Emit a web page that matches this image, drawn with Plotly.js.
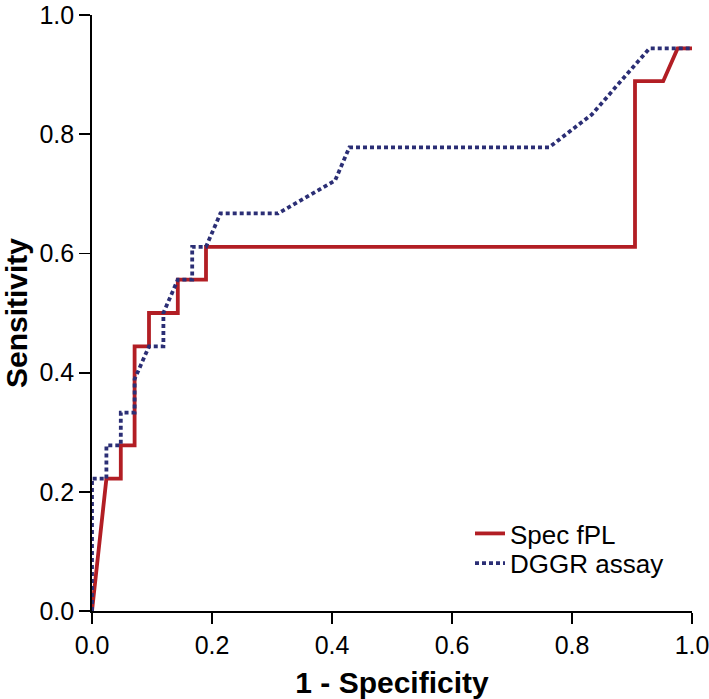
<!DOCTYPE html>
<html>
<head>
<meta charset="utf-8">
<script src="https://cdn.plot.ly/plotly-3.0.1.min.js"></script>
<style>html,body{margin:0;padding:0;background:#fff;}#chart{width:709px;height:699px;}</style>
</head>
<body>
<div id="chart"></div>
<script>
// 1 - Specificity (x) and Sensitivity (y) for each ROC curve
var specFplX = [0, 0.024, 0.048, 0.048, 0.071, 0.071, 0.095, 0.095, 0.143, 0.143, 0.190, 0.190, 0.905, 0.905, 0.952, 0.976, 1.0];
var specFplY = [0, 0.222, 0.222, 0.278, 0.278, 0.444, 0.444, 0.500, 0.500, 0.556, 0.556, 0.611, 0.611, 0.889, 0.889, 0.944, 0.944];

var dggrX = [0, 0, 0.024, 0.024, 0.048, 0.048, 0.071, 0.071, 0.095, 0.119, 0.119, 0.143, 0.167, 0.167, 0.190, 0.214, 0.310, 0.405, 0.429, 0.762, 0.833, 0.929, 1.0];
var dggrY = [0, 0.222, 0.222, 0.278, 0.278, 0.333, 0.333, 0.389, 0.444, 0.444, 0.500, 0.556, 0.556, 0.611, 0.611, 0.667, 0.667, 0.722, 0.778, 0.778, 0.833, 0.944, 0.944];

var seriesNames = ["Spec fPL", "DGGR assay"];
var tickVals = [0, 0.2, 0.4, 0.6, 0.8, 1.0];
var tickText = ["0.0", "0.2", "0.4", "0.6", "0.8", "1.0"];
var xTitle = "1 - Specificity";
var yTitle = "Sensitivity";

var FONT = "Liberation Sans, Arial, Helvetica, sans-serif";

var traces = [
  {x: specFplX, y: specFplY, name: seriesNames[0], mode: "lines", type: "scatter",
   line: {color: "#B21E24", width: 3.8}, legend: "legend"},
  {x: dggrX, y: dggrY, name: seriesNames[1], mode: "lines", type: "scatter",
   line: {color: "#2B2E75", width: 3.8, dash: "4px,3px"}, legend: "legend2"}
];

var axisCommon = {
  range: [0, 1], tickvals: tickVals, ticktext: tickText,
  showgrid: false, zeroline: false, showline: true, linecolor: "#000", linewidth: 1.8,
  ticks: "outside", ticklen: 11, tickwidth: 1.8, tickcolor: "#000",
  ticklabeloverflow: "allow",
  tickfont: {family: FONT, size: 25, color: "#000"}, mirror: false, fixedrange: true
};

var legendCommon = {xanchor: "left", yanchor: "middle",
  font: {family: FONT, size: 26, color: "#000"}, bgcolor: "rgba(0,0,0,0)", borderwidth: 0};

var layout = {
  width: 709, height: 699,
  margin: {l: 92, r: 17, t: 15, b: 88},
  paper_bgcolor: "#fff", plot_bgcolor: "#fff",
  showlegend: true,
  legend: Object.assign({}, legendCommon, {x: 0.63, y: 0.13}),
  legend2: Object.assign({}, legendCommon, {x: 0.63, y: 0.08}),
  xaxis: Object.assign({}, axisCommon, {
    title: {text: "<b>" + xTitle + "</b>", font: {family: FONT, size: 30, color: "#000"}, standoff: 18}
  }),
  yaxis: Object.assign({}, axisCommon, {
    title: {text: "<b>" + yTitle + "</b>", font: {family: FONT, size: 30, color: "#000"}, standoff: 12}
  })
};

Plotly.newPlot("chart", traces, layout, {displayModeBar: false, staticPlot: true});
</script>
</body>
</html>
